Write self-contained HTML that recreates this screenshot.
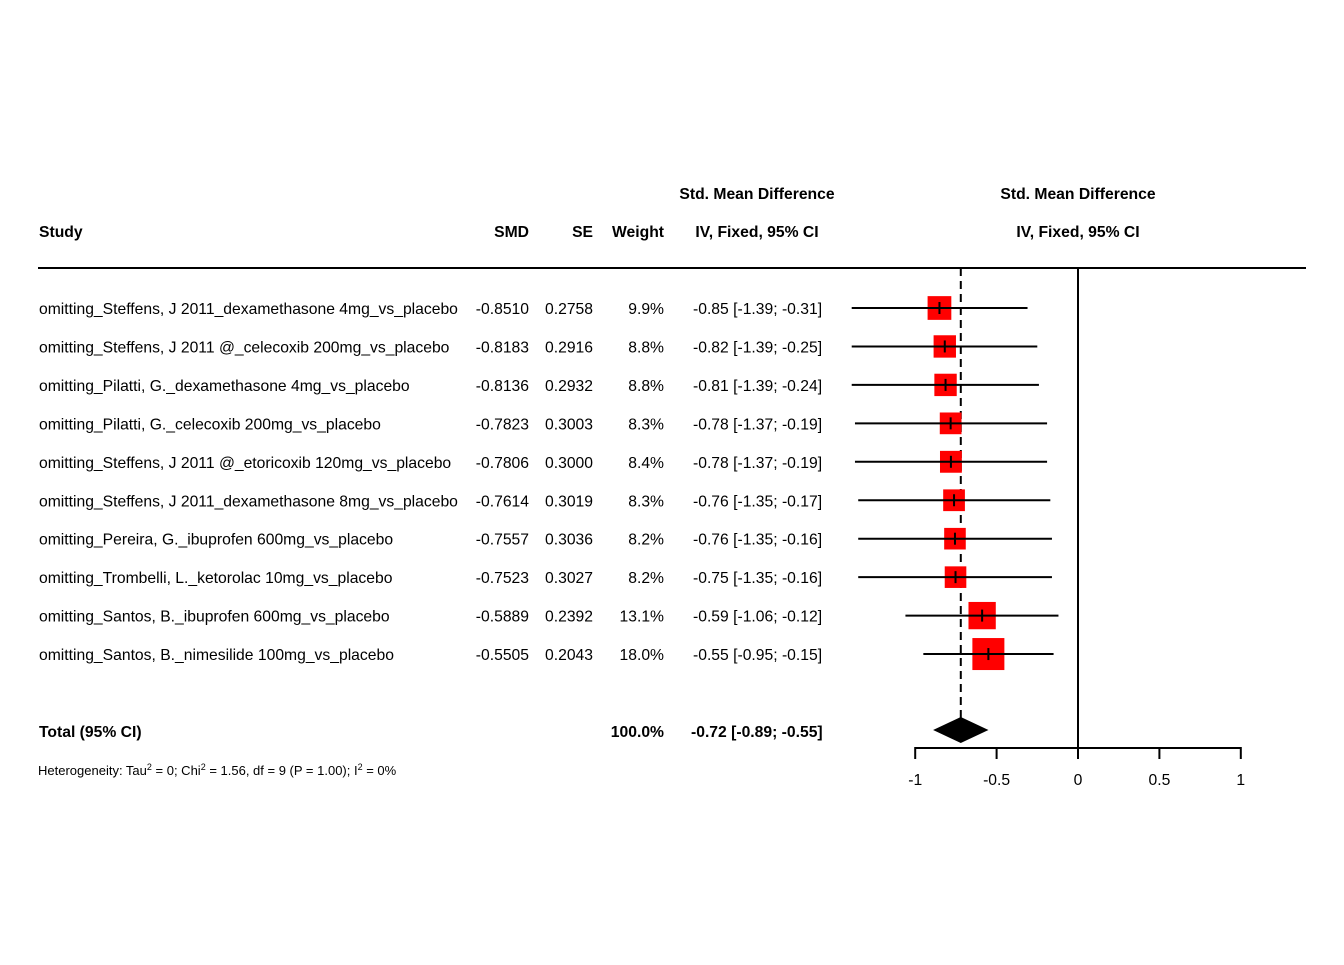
<!DOCTYPE html>
<html><head><meta charset="utf-8"><style>
body{margin:0;background:#fff}
svg text{font-family:"Liberation Sans",Arial,sans-serif;font-size:15.7px;fill:#000}
</style></head><body>
<svg width="1344" height="960" id="plot">
<g id="g"></g>
</svg>
<script>
const studies=["omitting_Steffens, J 2011_dexamethasone 4mg_vs_placebo","omitting_Steffens, J 2011 @_celecoxib 200mg_vs_placebo","omitting_Pilatti, G._dexamethasone 4mg_vs_placebo","omitting_Pilatti, G._celecoxib 200mg_vs_placebo","omitting_Steffens, J 2011 @_etoricoxib 120mg_vs_placebo","omitting_Steffens, J 2011_dexamethasone 8mg_vs_placebo","omitting_Pereira, G._ibuprofen 600mg_vs_placebo","omitting_Trombelli, L._ketorolac 10mg_vs_placebo","omitting_Santos, B._ibuprofen 600mg_vs_placebo","omitting_Santos, B._nimesilide 100mg_vs_placebo"];
const smd=[-0.8510,-0.8183,-0.8136,-0.7823,-0.7806,-0.7614,-0.7557,-0.7523,-0.5889,-0.5505];
const se=[0.2758,0.2916,0.2932,0.3003,0.3000,0.3019,0.3036,0.3027,0.2392,0.2043];
const weight=[9.9,8.8,8.8,8.3,8.4,8.3,8.2,8.2,13.1,18.0];
const lower=[-1.39,-1.39,-1.39,-1.37,-1.37,-1.35,-1.35,-1.35,-1.06,-0.95];
const upper=[-0.31,-0.25,-0.24,-0.19,-0.19,-0.17,-0.16,-0.16,-0.12,-0.15];
const total=[-0.72,-0.89,-0.55];
const ticks=[-1,-0.5,0,0.5,1];
const NS="http://www.w3.org/2000/svg",g=document.getElementById('g');
const X=v=>1078+v*162.8;
const rowY=i=>308+i*38.45;
function el(t,a,txt){const e=document.createElementNS(NS,t);for(const k in a)e.setAttribute(k,a[k]);if(txt!==undefined)e.textContent=txt;g.appendChild(e);return e;}
function tx(x,y,s,anchor,bold,name,size){const e=el('text',{x:x,y:y,'text-anchor':anchor||'start','font-weight':bold?'bold':'normal'},s);if(size)e.style.fontSize=size+'px';

return e;}
tx(39,237,"Study","start",1,"study-header");
tx(529,237,"SMD","end",1,"smd-header");
tx(593,237,"SE","end",1,"se-header");
tx(664,237,"Weight","end",1,"weight-header");
tx(757,199,"Std. Mean Difference","middle",1,"ci-header-1");
tx(757,237,"IV, Fixed, 95% CI","middle",1,"ci-header-2");
tx(1078,199,"Std. Mean Difference","middle",1,"plot-header-1");
tx(1078,237,"IV, Fixed, 95% CI","middle",1,"plot-header-2");
let l=el('line',{x1:38,x2:1306,y1:268,y2:268,stroke:'#000','stroke-width':2});


l=el('line',{x1:X(0),x2:X(0),y1:268,y2:747,stroke:'#000','stroke-width':2});


l=el('line',{x1:X(total[0]),x2:X(total[0]),y1:268,y2:718,stroke:'#000','stroke-width':2,'stroke-dasharray':'8,5'});


const f=v=>v.toFixed(2);
studies.forEach((s,i)=>{const y=rowY(i);
tx(39,y+6,s,"start",0,"study-name");
tx(529,y+6,smd[i].toFixed(4),"end",0,"smd-value");
tx(593,y+6,se[i].toFixed(4),"end",0,"se-value");
tx(664,y+6,weight[i].toFixed(1)+"%","end",0,"weight-value");
tx(693,y+6,f(smd[i])+" ["+f(lower[i])+"; "+f(upper[i])+"]","start",0,"ci-value");
const sz=32*Math.sqrt(weight[i]/18);
let r=el('rect',{x:X(smd[i])-sz/2,y:y-sz/2,width:sz,height:sz,fill:'#f00'});


let c=el('line',{x1:X(lower[i]),x2:X(upper[i]),y1:y,y2:y,stroke:'#000','stroke-width':2});


let t=el('line',{x1:X(smd[i]),x2:X(smd[i]),y1:y-6,y2:y+6,stroke:'#000','stroke-width':2});


});
tx(39,737,"Total (95% CI)","start",1,"total-label");
tx(664,737,"100.0%","end",1,"total-weight");
tx(691,737,f(total[0])+" ["+f(total[1])+"; "+f(total[2])+"]","start",1,"total-ci");
let d=el('polygon',{points:`${X(total[1])},730 ${X(total[0])},717 ${X(total[2])},730 ${X(total[0])},743`,fill:'#000'});


const h=el('text',{x:38,y:775});h.style.fontSize='13px';
h.innerHTML='Heterogeneity: Tau<tspan dy="-5" font-size="9">2</tspan><tspan dy="5"> = 0; Chi</tspan><tspan dy="-5" font-size="9">2</tspan><tspan dy="5"> = 1.56, df = 9 (P = 1.00); I</tspan><tspan dy="-5" font-size="9">2</tspan><tspan dy="5"> = 0%</tspan>';


l=el('line',{x1:X(ticks[0]),x2:X(ticks[ticks.length-1]),y1:748,y2:748,stroke:'#000','stroke-width':2});


ticks.forEach(v=>{let t=el('line',{x1:X(v),x2:X(v),y1:747,y2:759,stroke:'#000','stroke-width':2});


tx(X(v),785,String(v),"middle",0,"x-tick-label");});
</script>
</body></html>
